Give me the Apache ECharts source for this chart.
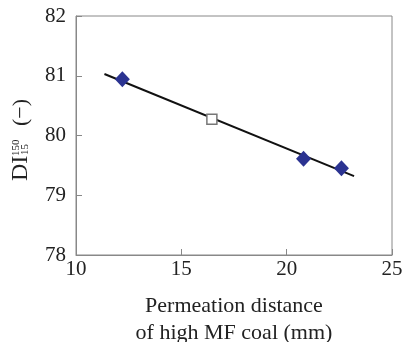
<!DOCTYPE html>
<html><head><meta charset="utf-8">
<script src="https://cdn.jsdelivr.net/npm/echarts@6/dist/echarts.min.js"></script>
<style>html,body{margin:0;padding:0;background:#fff}#c{width:403px;height:342px}</style>
</head><body><div id="c"></div>
<script>
const diamondX = [12.2, 20.8, 22.6];
const diamondY = [80.94, 79.61, 79.45];
const squareX = [16.45];
const squareY = [80.27];
const fitX = [11.35, 23.2];
const fitY = [81.03, 79.32];
const xTicks = [10, 15, 20, 25];
const yTicks = [78, 79, 80, 81, 82];
const xTitle = 'Permeation distance\nof high MF coal (mm)';

const F = '"Liberation Serif", "DejaVu Serif", serif';
const chart = echarts.init(document.getElementById('c'));
const zip = (a, b) => a.map((v, i) => [v, b[i]]);
chart.setOption({
  animation: false,
  grid: { left: 76, top: 16, right: 11, bottom: 87, show: true, borderColor: '#888', borderWidth: 1,
          containLabel: false, outerBoundsMode: 'none' },
  xAxis: {
    type: 'value', min: xTicks[0], max: xTicks[xTicks.length - 1], interval: 5,
    axisLine: { lineStyle: { color: '#888' } },
    axisTick: { inside: true, length: 6, lineStyle: { color: '#888' } },
    axisLabel: { fontFamily: F, fontSize: 21, color: '#222', margin: 4 },
    splitLine: { show: false },
    name: xTitle, nameLocation: 'middle', nameGap: 38,
    nameTextStyle: { fontFamily: F, fontSize: 22, color: '#222', lineHeight: 27, verticalAlign: 'top' }
  },
  yAxis: {
    type: 'value', min: yTicks[0], max: yTicks[yTicks.length - 1], interval: 1,
    axisLine: { lineStyle: { color: '#888' } },
    axisTick: { inside: true, length: 6, lineStyle: { color: '#888' } },
    axisLabel: { fontFamily: F, fontSize: 21, color: '#222', margin: 10 },
    splitLine: { show: false }
  },
  graphic: [{
    type: 'group', x: 28, y: 181, rotation: Math.PI / 2,
    children: [
      { type: 'text', x: 0, y: 5, style: { text: 'DI', font: '24px ' + F, fill: '#222', textVerticalAlign: 'bottom' } },
      { type: 'text', x: 25, y: -6, style: { text: '150', font: '11px ' + F, fill: '#222', textVerticalAlign: 'bottom' } },
      { type: 'text', x: 26, y: 3, style: { text: '15', font: '11px ' + F, fill: '#222', textVerticalAlign: 'bottom' } },
      { type: 'text', x: 55, y: 4, style: { text: '(−)', font: '22px ' + F, fill: '#222', textVerticalAlign: 'bottom' } }
    ]
  }],
  series: [
    { type: 'line', data: zip(fitX, fitY), symbol: 'none', lineStyle: { color: '#111', width: 2 }, z: 2 },
    { type: 'scatter', data: zip(diamondX, diamondY), symbol: 'diamond', symbolSize: [15, 16],
      itemStyle: { color: '#2b3391', opacity: 1 }, z: 3 },
    { type: 'scatter', data: zip(squareX, squareY), symbol: 'rect', symbolSize: 10,
      itemStyle: { color: '#fff', borderColor: '#777', borderWidth: 1.5, opacity: 1 }, z: 3 }
  ]
});
</script></body></html>
